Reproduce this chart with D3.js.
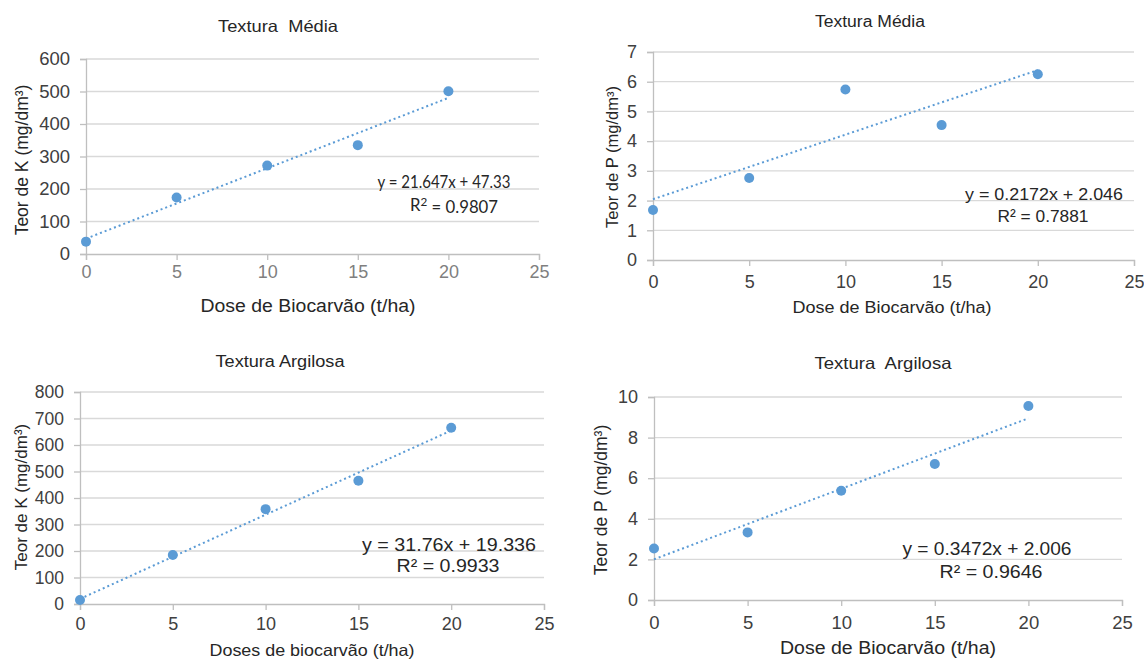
<!DOCTYPE html>
<html><head><meta charset="utf-8">
<script src="https://cdn.jsdelivr.net/npm/d3@7"></script>
<style>
body{margin:0;background:#fff;}
svg{display:block;}
</style></head>
<body>
<svg id="c" width="1144" height="659"></svg>
<script>
// ---- data ----
const doses = [0, 5, 10, 15, 20];
const xTicks = [0, 5, 10, 15, 20, 25];
const kMedia = [38, 174, 272, 335, 501];
const pMedia = [1.68, 2.76, 5.74, 4.54, 6.25];
const kArgilosa = [15, 185, 358, 465, 665];
const pArgilosa = [2.54, 3.33, 5.38, 6.70, 9.56];
const kMediaTicks = [0, 100, 200, 300, 400, 500, 600];
const pMediaTicks = [0, 1, 2, 3, 4, 5, 6, 7];
const kArgilosaTicks = [0, 100, 200, 300, 400, 500, 600, 700, 800];
const pArgilosaTicks = [0, 2, 4, 6, 8, 10];
const slopes = [21.647, 0.2172, 31.76, 0.3472];
const intercepts = [47.33, 2.046, 19.336, 2.006];
const eqTexts = ["y = 21.647x + 47.33", "y = 0.2172x + 2.046", "y = 31.76x + 19.336", "y = 0.3472x + 2.006"];
const r2Texts = ["0.9807", "0.7881", "0.9933", "0.9646"];
const titles = ["Textura  Média", "Textura Média", "Textura Argilosa", "Textura  Argilosa"];
const yTitles = ["Teor de K (mg/dm³)", "Teor de P (mg/dm³)", "Teor de K (mg/dm³)", "Teor de P (mg/dm³)"];
const xTitles = ["Dose de Biocarvão (t/ha)", "Dose de Biocarvão (t/ha)", "Doses de biocarvão (t/ha)", "Dose de Biocarvão (t/ha)"];

const seriesList = [kMedia, pMedia, kArgilosa, pArgilosa];
const yTickList = [kMediaTicks, pMediaTicks, kArgilosaTicks, pArgilosaTicks];

// ---- layout ----
const layouts = [
  {l:86, r:539, t:59, b:254, titleX:278, titleY:32, titleFs:16.5, titleW:120, xtY:278, xtFs:18, xtColor:"#7f7f7f", ytFs:18.5,
   xlX:308, xlY:312, xlFs:17.5, xlW:215, ylX:22, ylY:160, ylFs:17.5,
   eqX:444, eqY:188, eqW:133, r2X:454, r2Y:211, r2W:88, eqFs:17.5, eqFont:"'Liberation Sans Narrow', Lato, sans-serif", sup:true},
  {l:653, r:1134, t:52, b:260, titleX:870, titleY:27, titleFs:16, titleW:110, xtY:288, xtFs:18, xtColor:"#404040", ytFs:18,
   xlX:892, xlY:313, xlFs:16, xlW:199, ylX:612, ylY:157, ylFs:16.5,
   eqX:1044, eqY:200, eqW:158, r2X:1043, r2Y:222, r2W:91, eqFs:17, eqFont:"'Liberation Sans', Arial, sans-serif", sup:false},
  {l:80, r:544, t:392, b:604, titleX:280, titleY:367, titleFs:16, titleW:129, xtY:630, xtFs:18, xtColor:"#404040", ytFs:17.5,
   xlX:312, xlY:656, xlFs:16.5, xlW:205, ylX:21, ylY:497, ylFs:17,
   eqX:449, eqY:551, eqW:174, r2X:448, r2Y:572, r2W:103, eqFs:17.5, eqFont:"'Liberation Sans', Arial, sans-serif", sup:false},
  {l:654, r:1122, t:397, b:600, titleX:883, titleY:369, titleFs:16.5, titleW:137, xtY:629, xtFs:18.5, xtColor:"#404040", ytFs:18,
   xlX:888, xlY:654, xlFs:17.5, xlW:216, ylX:601, ylY:500, ylFs:17.5,
   eqX:987, eqY:555, eqW:169, r2X:991, r2Y:578, r2W:103, eqFs:17.5, eqFont:"'Liberation Sans', Arial, sans-serif", sup:false}
];

const svg = d3.select("#c");
const font = "'Liberation Sans', Arial, sans-serif";
const blue = "#5b9bd5";

function fit(sel, w) {
  return sel.attr("textLength", w).attr("lengthAdjust", "spacingAndGlyphs");
}

seriesList.forEach((vals, i) => {
  const L = layouts[i];
  const yT = yTickList[i];
  const x = d3.scaleLinear().domain([0, 25]).range([L.l, L.r]);
  const y = d3.scaleLinear().domain([0, yT[yT.length-1]]).range([L.b, L.t]);
  const g = svg.append("g");

  // gridlines
  g.selectAll(".grid").data(yT.slice(1)).enter().append("line")
    .attr("x1", L.l).attr("x2", L.r).attr("y1", d => y(d)).attr("y2", d => y(d))
    .attr("stroke", "#d9d9d9").attr("stroke-width", 1.3);

  // y axis
  const ya = g.append("g").attr("transform", `translate(${L.l},0)`)
    .call(d3.axisLeft(y).tickValues(yT).tickSize(6).tickPadding(10).tickFormat(d3.format("d")));
  ya.select(".domain").attr("stroke", "#bfbfbf").attr("stroke-width", 1.3);
  ya.selectAll(".tick line").attr("stroke", "#bfbfbf").attr("stroke-width", 1.3);
  ya.selectAll(".tick text").attr("font-family", font).attr("font-size", L.ytFs).attr("fill", "#404040");

  // x axis
  const xa = g.append("g").attr("transform", `translate(0,${L.b})`)
    .call(d3.axisBottom(x).tickValues(xTicks).tickSize(6).tickPadding(6).tickFormat(d3.format("d")));
  xa.select(".domain").attr("stroke", "#bfbfbf").attr("stroke-width", 1.3);
  xa.selectAll(".tick line").attr("stroke", "#bfbfbf").attr("stroke-width", 1.3);
  xa.selectAll(".tick text").attr("font-family", font).attr("font-size", L.xtFs).attr("fill", L.xtColor)
    .attr("dy", null).attr("y", null)
    .attr("transform", d => `translate(0,${L.xtY - L.b})`);

  // trend line
  g.append("line")
    .attr("x1", x(0)).attr("y1", y(intercepts[i]))
    .attr("x2", x(20)).attr("y2", y(intercepts[i] + slopes[i]*20))
    .attr("stroke", blue).attr("stroke-width", 2).attr("stroke-dasharray", "2,3");

  // points
  g.selectAll(".pt").data(vals).enter().append("circle")
    .attr("cx", (d, j) => x(doses[j])).attr("cy", d => y(d)).attr("r", 5)
    .attr("fill", blue);

  // title
  fit(g.append("text").attr("x", L.titleX).attr("y", L.titleY).attr("text-anchor", "middle")
    .attr("font-family", font).attr("font-size", L.titleFs).attr("fill", "#262626")
    .style("white-space", "pre").text(titles[i]), L.titleW);

  // axis titles
  fit(g.append("text").attr("x", L.xlX).attr("y", L.xlY).attr("text-anchor", "middle")
    .attr("font-family", font).attr("font-size", L.xlFs).attr("fill", "#262626").text(xTitles[i]), L.xlW);
  g.append("text").attr("transform", `translate(${L.ylX},${L.ylY}) rotate(-90)`)
    .attr("text-anchor", "middle").attr("dy", "0.35em")
    .attr("font-family", font).attr("font-size", L.ylFs).attr("fill", "#262626").text(yTitles[i]);

  // equation
  fit(g.append("text").attr("x", L.eqX).attr("y", L.eqY).attr("text-anchor", "middle")
    .attr("font-family", L.eqFont).attr("font-size", L.eqFs).attr("fill", "#262626").text(eqTexts[i]), L.eqW);
  const r2 = g.append("text").attr("x", L.r2X).attr("y", L.r2Y).attr("text-anchor", "middle")
    .attr("font-family", L.eqFont).attr("font-size", L.eqFs).attr("fill", "#262626");
  if (L.sup) {
    r2.append("tspan").text("R");
    r2.append("tspan").attr("dy", "-0.4em").attr("font-size", L.eqFs*0.7).text("2");
    r2.append("tspan").attr("dy", "0.4em").text(" = " + r2Texts[i]);
  } else {
    r2.text("R² = " + r2Texts[i]);
  }
  fit(r2, L.r2W);
});
</script>
</body></html>
